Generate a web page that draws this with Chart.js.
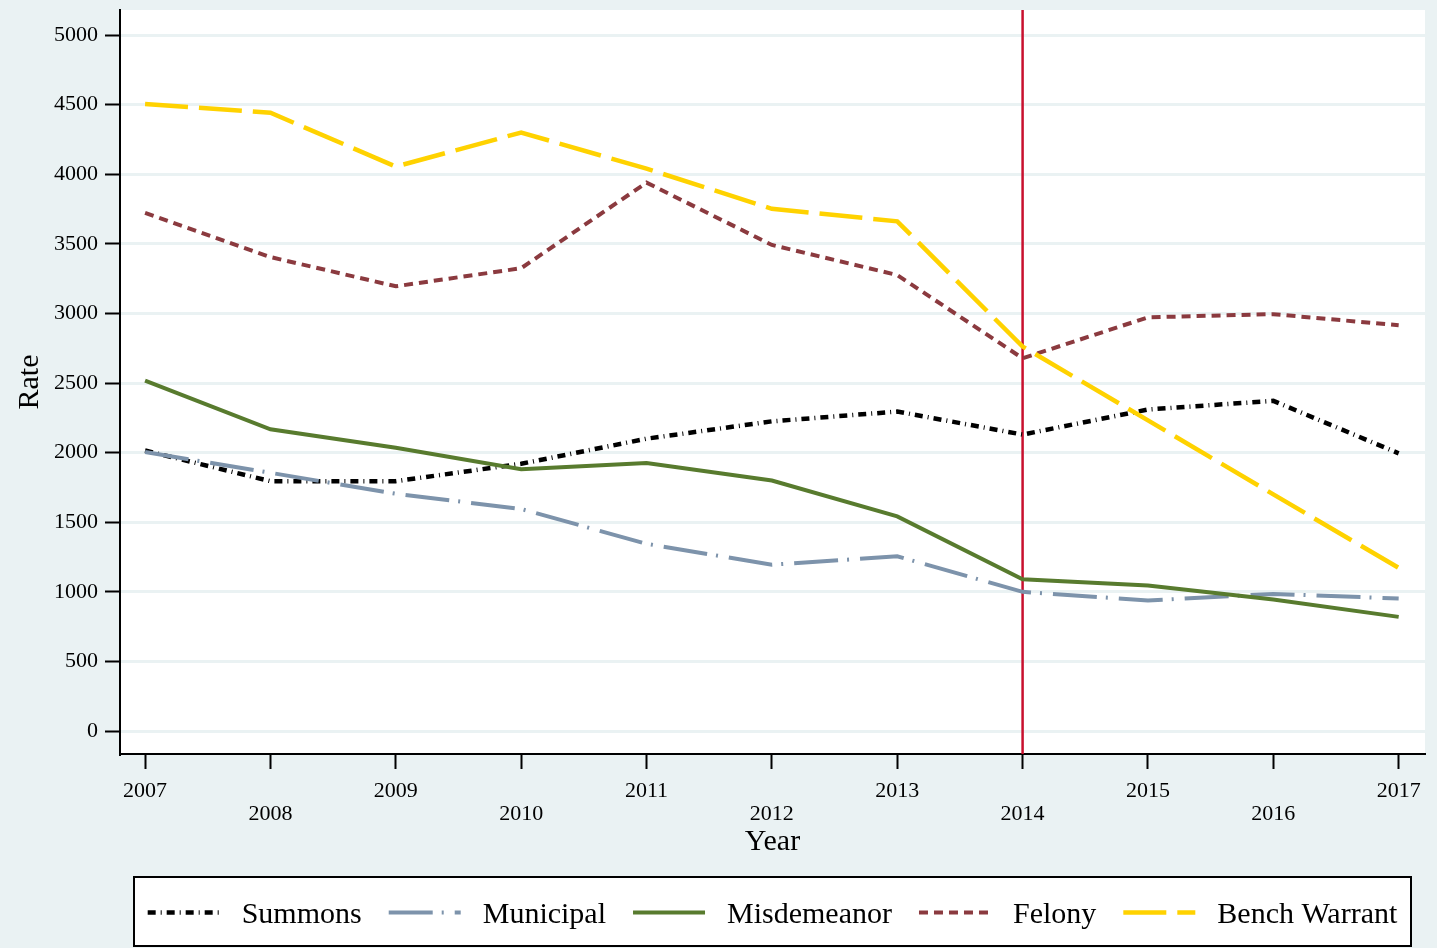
<!DOCTYPE html>
<html>
<head>
<meta charset="utf-8">
<script src="https://cdn.jsdelivr.net/npm/chart.js@4.4.1/dist/chart.umd.min.js"></script>
<style>
  html, body { margin: 0; padding: 0; background: #EAF2F3; }
  canvas { display: block; }
</style>
</head>
<body>
<canvas id="rates" width="1437" height="948"></canvas>
<script>
// Yearly rates by warrant / case type
const years = [2007, 2008, 2009, 2010, 2011, 2012, 2013, 2014, 2015, 2016, 2017];
const summons      = [2015, 1795, 1795, 1920, 2100, 2225, 2295, 2130, 2310, 2372, 1995];
const municipal    = [2005, 1855, 1705, 1595, 1345, 1195, 1255, 1000, 938, 985, 952];
const misdemeanor  = [2518, 2168, 2035, 1880, 1925, 1800, 1542, 1090, 1045, 945, 820];
const felony       = [3722, 3405, 3195, 3325, 3940, 3492, 3276, 2678, 2972, 2995, 2915];
const benchWarrant = [4505, 4442, 4055, 4300, 4040, 3752, 3662, 2762, 2232, 1700, 1172];

const seriesNames = ['Summons', 'Municipal', 'Misdemeanor', 'Felony', 'Bench Warrant'];
const yTickValues = [0, 500, 1000, 1500, 2000, 2500, 3000, 3500, 4000, 4500, 5000];
const policyYear = 2014;

const SERIF = '"Liberation Serif", "Times New Roman", serif';

function toPoints(values) {
  return years.map((yr, i) => ({ x: yr, y: values[i] }));
}

const styles = [
  { color: '#000000', dash: [8, 5, 1, 5],  width: 4.5 },
  { color: '#7D93AB', dash: [44, 9, 2, 11], width: 4 },
  { color: '#587B2E', dash: [],            width: 4 },
  { color: '#8B3A3F', dash: [9, 6],        width: 4 },
  { color: '#FFD200', dash: [43, 11],      width: 4.5 }
];
const seriesValues = [summons, municipal, misdemeanor, felony, benchWarrant];

const datasets = seriesValues.map((vals, i) => ({
  label: seriesNames[i],
  data: toPoints(vals),
  borderColor: styles[i].color,
  backgroundColor: styles[i].color,
  borderDash: styles[i].dash,
  borderWidth: styles[i].width,
  borderCapStyle: 'butt',
  pointRadius: 0,
  pointHoverRadius: 0,
  tension: 0,
  fill: false,
  order: seriesValues.length - 1 - i
}));

// Grey page background with a white plot region
const plotBackground = {
  id: 'plotBackground',
  beforeDraw(chart) {
    const { ctx, chartArea: a } = chart;
    ctx.save();
    ctx.fillStyle = '#EAF2F3';
    ctx.fillRect(0, 0, chart.width, chart.height);
    ctx.fillStyle = '#FFFFFF';
    ctx.fillRect(a.left, a.top, a.right - a.left, a.bottom - a.top);
    ctx.restore();
  }
};

// Vertical reference line at the policy year
const policyLine = {
  id: 'policyLine',
  beforeDatasetsDraw(chart) {
    const { ctx, chartArea: a, scales } = chart;
    const x = scales.x.getPixelForValue(policyYear);
    ctx.save();
    ctx.strokeStyle = '#C8102E';
    ctx.lineWidth = 2.5;
    ctx.beginPath();
    ctx.moveTo(x, a.top);
    ctx.lineTo(x, a.bottom);
    ctx.stroke();
    ctx.restore();
  }
};

// Boxed single-row legend under the axis title
const boxedLegend = {
  id: 'boxedLegend',
  afterDraw(chart) {
    const { ctx, chartArea: a } = chart;
    const left = a.left + 14, right = a.right - 14;
    const top = chart.height - 71, bottom = chart.height - 2;
    ctx.save();
    ctx.fillStyle = '#FFFFFF';
    ctx.fillRect(left, top, right - left, bottom - top);
    ctx.strokeStyle = '#000000';
    ctx.lineWidth = 2;
    ctx.strokeRect(left, top, right - left, bottom - top);

    const sampleW = 72, sampleGap = 22, itemGap = 27;
    ctx.font = '30px ' + SERIF;
    const items = chart.data.datasets.map(ds => ({ ds, w: ctx.measureText(ds.label).width }));
    const total = items.reduce((s, it) => s + sampleW + sampleGap + it.w, 0) + itemGap * (items.length - 1);
    let x = (left + right) / 2 - total / 2;
    const midY = (top + bottom) / 2;
    items.forEach(({ ds, w }) => {
      ctx.save();
      ctx.strokeStyle = ds.borderColor;
      ctx.lineWidth = ds.borderWidth;
      ctx.lineCap = 'butt';
      ctx.setLineDash(ds.borderDash || []);
      ctx.beginPath();
      ctx.moveTo(x, midY + 1);
      ctx.lineTo(x + sampleW, midY + 1);
      ctx.stroke();
      ctx.restore();
      ctx.fillStyle = '#000000';
      ctx.textBaseline = 'middle';
      ctx.textAlign = 'left';
      ctx.fillText(ds.label, x + sampleW + sampleGap, midY + 4);
      x += sampleW + sampleGap + w + itemGap;
    });
    ctx.restore();
  }
};

new Chart(document.getElementById('rates'), {
  type: 'line',
  data: { datasets },
  options: {
    responsive: false,
    animation: false,
    layout: { padding: { top: 10, right: 12, bottom: 90, left: 0 } },
    plugins: {
      legend: { display: false },
      tooltip: { enabled: false }
    },
    scales: {
      x: {
        type: 'linear',
        min: 2006.8,
        max: 2017.21,
        afterBuildTicks: scale => { scale.ticks = years.map(v => ({ value: v })); },
        afterFit: scale => {
          scale.height = 104;
          scale.paddingLeft = 0;
          scale.paddingRight = 0;
        },
        grid: {
          drawOnChartArea: false,
          drawTicks: true,
          tickLength: 15,
          tickWidth: 2,
          tickColor: '#000000',
          color: '#000000'
        },
        border: { display: true, color: '#000000', width: 2 },
        ticks: {
          autoSkip: false,
          maxRotation: 0,
          minRotation: 0,
          padding: 11,
          color: '#000000',
          font: { family: SERIF, size: 22, lineHeight: 1.05 },
          callback: (v, i) => (i % 2 === 0 ? String(v) : ['', String(v)])
        },
        title: {
          display: true,
          text: 'Year',
          color: '#000000',
          font: { family: SERIF, size: 30, lineHeight: 1.07 },
          padding: { top: 0, bottom: 0 }
        }
      },
      y: {
        type: 'linear',
        min: -165,
        max: 5180,
        afterBuildTicks: scale => { scale.ticks = yTickValues.map(v => ({ value: v })); },
        afterFit: scale => {
          scale.width = 120;
          scale.paddingTop = 0;
          scale.paddingBottom = 0;
        },
        grid: {
          color: '#EAF2F3',
          lineWidth: 3,
          drawTicks: true,
          tickLength: 15,
          tickWidth: 2,
          tickColor: '#000000'
        },
        border: { display: true, color: '#000000', width: 2 },
        ticks: {
          padding: 7,
          color: '#000000',
          font: { family: SERIF, size: 22 },
          callback: v => String(v)
        },
        title: {
          display: true,
          text: 'Rate',
          color: '#000000',
          font: { family: SERIF, size: 30, lineHeight: 1.2 },
          padding: { top: 12, bottom: 0 }
        }
      }
    }
  },
  plugins: [plotBackground, policyLine, boxedLegend]
});
</script>
</body>
</html>
